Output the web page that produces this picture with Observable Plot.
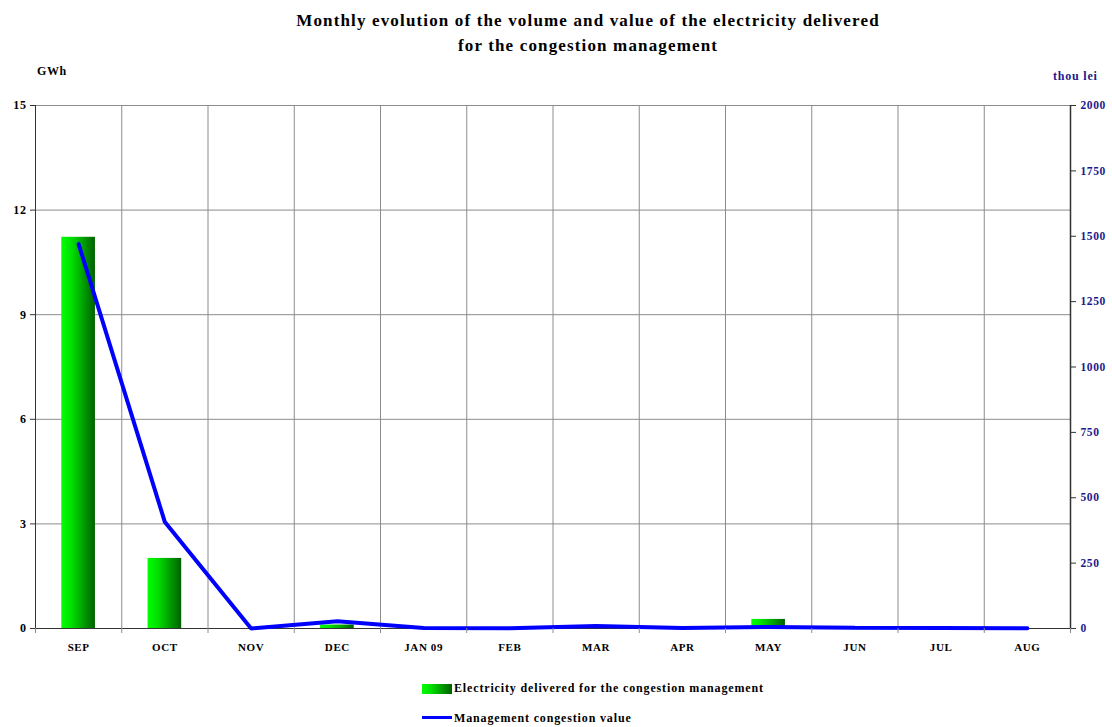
<!DOCTYPE html>
<html>
<head>
<meta charset="utf-8">
<script src="https://cdn.jsdelivr.net/npm/d3@7"></script>
<script src="https://cdn.jsdelivr.net/npm/@observablehq/plot@0.6"></script>
<style>
  html, body { margin: 0; padding: 0; background: #fff; }
  #wrap { position: relative; width: 1112px; height: 727px; font-family: "Liberation Serif", "Times New Roman", serif; font-weight: bold; }
  .abs { position: absolute; white-space: nowrap; }
  #title { left: 0; width: 1176px; top: 8px; text-align: center; font-size: 17px; line-height: 25px; letter-spacing: 1.15px; color: #000; }
  #ylab { left: 37px; top: 64px; font-size: 12px; letter-spacing: 0.6px; color: #000; }
  #y2lab { left: 1053px; top: 69px; font-size: 12px; letter-spacing: 0.8px; color: #1a1a8c; }
  .leg { font-size: 12px; letter-spacing: 0.85px; color: #000; }
  .sw { position: absolute; }
</style>
</head>
<body>
<div id="wrap">
  <div id="chart" class="abs" style="left:0;top:0"></div>
  <div id="title" class="abs">Monthly evolution of the volume and value of the electricity delivered<br>for the congestion management</div>
  <div id="ylab" class="abs">GWh</div>
  <div id="y2lab" class="abs">thou lei</div>
  <div class="sw" style="left:422px;top:684px;width:30px;height:10px;background:linear-gradient(to right,#00ff00 0%,#00e000 30%,#006000 100%)"></div>
  <div class="abs leg" style="left:454px;top:681px">Electricity delivered for the congestion management</div>
  <div class="sw" style="left:422px;top:716px;width:30px;height:3px;background:#0000ff"></div>
  <div class="abs leg" style="left:454px;top:711px">Management congestion value</div>
</div>
<script>
const months = ["SEP","OCT","NOV","DEC","JAN 09","FEB","MAR","APR","MAY","JUN","JUL","AUG"];
const electricityGWh = [11.22, 2.01, 0, 0.1, 0, 0, 0.02, 0, 0.26, 0, 0, 0];
const valueThouLei = [1470, 407, 0, 28, 2, 1, 10, 2, 6, 3, 2, 1];
const leftTicks = [0, 3, 6, 9, 12, 15];
const rightTicks = [0, 250, 500, 750, 1000, 1250, 1500, 1750, 2000];

const Y_MAX = 15, Y2_MAX = 2000;
const toLeft = v => v * Y_MAX / Y2_MAX;

const data = months.map((m, i) => ({month: m, i, gwh: electricityGWh[i], value: valueThouLei[i]}));

const gradientDefs = () => {
  const defs = d3.create("svg:defs");
  const g = defs.append("linearGradient").attr("id", "barGrad")
    .attr("x1", "0").attr("x2", "1").attr("y1", "0").attr("y2", "0");
  g.append("stop").attr("offset", "0").attr("stop-color", "#00ff00");
  g.append("stop").attr("offset", "0.3").attr("stop-color", "#00e000");
  g.append("stop").attr("offset", "1").attr("stop-color", "#006000");
  return defs.node();
};

const chart = Plot.plot({
  width: 1112,
  height: 727,
  marginLeft: 35,
  marginRight: 42,
  marginTop: 105,
  marginBottom: 99,
  style: {fontFamily: "'Liberation Serif', 'Times New Roman', serif", fontSize: "12px", fontWeight: "bold", background: "white", overflow: "visible", letterSpacing: "0.6px"},
  x: {domain: [0, months.length], axis: null},
  y: {domain: [0, Y_MAX], axis: null},
  marks: [
    gradientDefs,
    Plot.ruleY(leftTicks, {stroke: "#8c8c8c", strokeWidth: 1}),
    Plot.ruleX(d3.range(1, months.length), {stroke: "#8c8c8c", strokeWidth: 1}),
    Plot.rectY(data, {x1: d => d.i, x2: d => d.i + 1, y: "gwh", insetLeft: 26.3, insetRight: 26.3, fill: "url(#barGrad)"}),
    Plot.ruleX([0], {stroke: "#333", strokeWidth: 1}),
    Plot.ruleX([months.length], {stroke: "#333", strokeWidth: 1.5}),
    Plot.ruleY([0], {stroke: "#333", strokeWidth: 1}),
    Plot.lineY(data, {x: d => d.i + 0.5, y: d => toLeft(d.value), stroke: "#0000ff", strokeWidth: 4, strokeLinejoin: "miter"}),
    Plot.axisY({anchor: "left", ticks: leftTicks, tickSize: 5, tickPadding: 4, label: null, fontSize: 12, fontWeight: "bold", stroke: "#333"}),
    Plot.axisY({anchor: "right", ticks: rightTicks.map(toLeft), tickFormat: d => String(Math.round(d * Y2_MAX / Y_MAX)), tickSize: 5, tickPadding: 5, label: null, fill: "#1a1a8c", stroke: "#333", fontSize: 11.5}),
    Plot.axisX({ticks: d3.range(0, months.length + 1), tickSize: 5, tickFormat: () => "", label: null, stroke: "#8c8c8c"}),
    Plot.axisX({ticks: d3.range(months.length).map(i => i + 0.5), tickSize: 0, tickPadding: 15, tickFormat: d => months[Math.floor(d)], label: null, fontSize: 11, fontWeight: "bold"})
  ]
});
document.getElementById("chart").appendChild(chart);
</script>
</body>
</html>
